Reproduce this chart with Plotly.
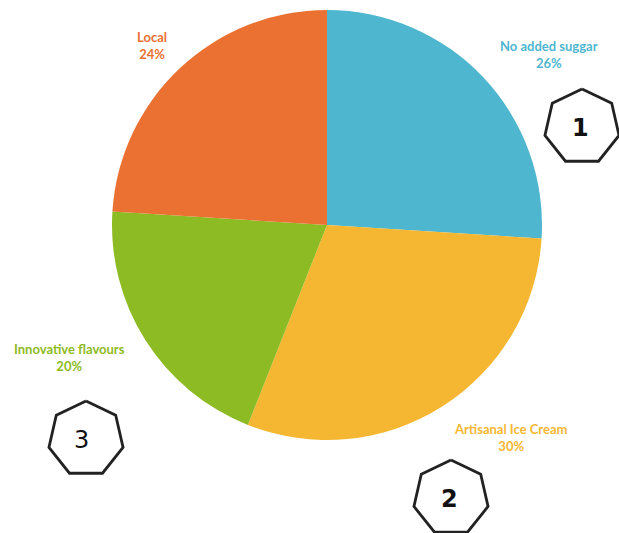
import math
import plotly.graph_objects as go

# Share of consumer priorities
categories = ["No added suggar", "Artisanal Ice Cream", "Innovative flavours", "Local"]
shares = [26, 30, 20, 24]
colors = ["#4FB6CF", "#F5B732", "#8DBB23", "#EB7133"]

# Numbered heptagon badges
badge_labels = ["1", "2", "3"]

W, H = 619, 533

fig = go.Figure()

# Pie occupies a 430px square centred at (327, 225)
cx, cy, r = 327, 225, 215
fig.add_trace(go.Pie(
    labels=categories,
    values=shares,
    marker=dict(colors=colors, line=dict(width=0)),
    sort=False,
    direction="clockwise",
    rotation=0,
    textinfo="none",
    hoverinfo="label+percent",
    showlegend=False,
    domain=dict(x=[(cx - r) / W, (cx + r) / W],
                y=[1 - (cy + r) / H, 1 - (cy - r) / H]),
))

# Outside labels in slice colour
label_pos = [(549, 54), (511, 437), (69, 357), (152, 45)]
for name, val, col, (lx, ly) in zip(categories, shares, colors, label_pos):
    fig.add_annotation(
        x=lx, y=ly, xref="x", yref="y",
        text=f"<b>{name}<br>{val}%</b>",
        showarrow=False,
        font=dict(family="Lato", size=13, color=col),
        align="center",
    )

# Heptagon badges
badge_pos = [(582, 127), (451, 498), (86, 439)]
badge_bold = [True, True, False]
badge_text_dx = [-2, -2, -5]
R = 38
for lab, (bx, by), bold, dx in zip(badge_labels, badge_pos, badge_bold, badge_text_dx):
    xs, ys = [], []
    for k in range(8):
        a = math.radians(90 + k * 360 / 7)
        xs.append(bx + R * math.cos(a))
        ys.append(by - R * math.sin(a))
    fig.add_trace(go.Scatter(
        x=xs, y=ys, mode="lines",
        line=dict(color="#222222", width=2.8),
        hoverinfo="skip", showlegend=False,
    ))
    fig.add_annotation(
        x=bx + dx, y=by + 1, xref="x", yref="y",
        text=f"<b>{lab}</b>" if bold else lab,
        showarrow=False,
        font=dict(family="DejaVu Sans", size=24, color="#111111"),
    )

fig.update_layout(
    width=W, height=H,
    margin=dict(l=0, r=0, t=0, b=0),
    paper_bgcolor="white",
    plot_bgcolor="rgba(0,0,0,0)",
    xaxis=dict(range=[0, W], visible=False, domain=[0, 1], fixedrange=True),
    yaxis=dict(range=[H, 0], visible=False, domain=[0, 1], fixedrange=True),
)

fig.write_html("out.html")
